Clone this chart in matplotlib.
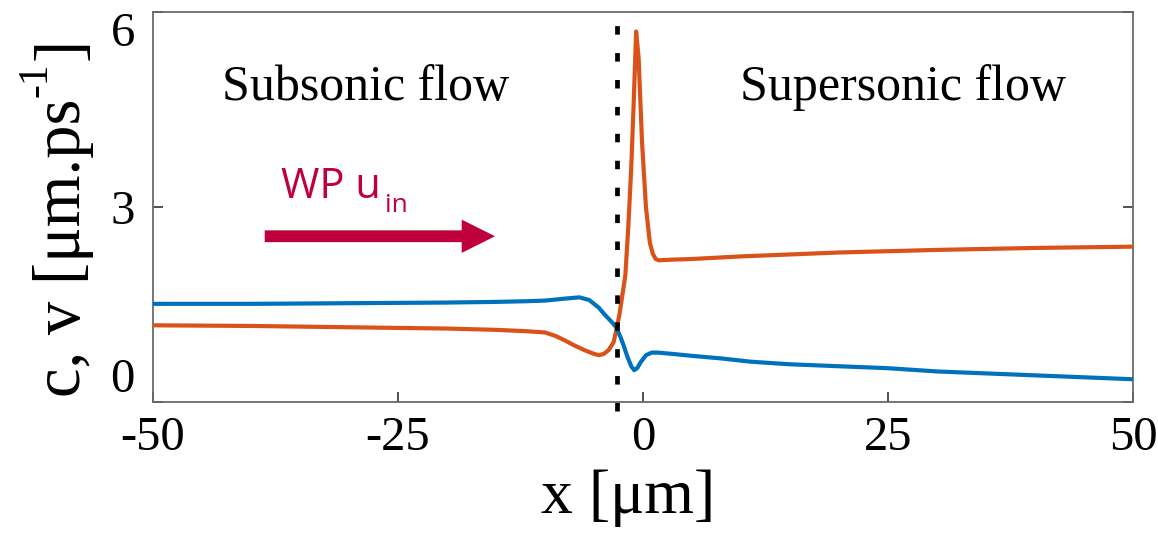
import matplotlib
matplotlib.use("Agg")
import matplotlib.pyplot as plt
from matplotlib.patches import FancyArrowPatch

# Flow profiles across the horizon
x_c = [-50, -40, -30, -20, -15, -12, -10, -9, -8, -7, -6, -5, -4.5, -4, -3.5, -3,
       -2.7, -2.4, -2.1, -1.8, -1.5, -1.2, -0.95, -0.7, -0.45, -0.1, 0.3, 0.7, 1.0,
       1.3, 1.6, 3, 5, 10, 15, 20, 25, 30, 40, 50]
c_vals = [1.18, 1.17, 1.15, 1.13, 1.11, 1.09, 1.07, 1.02, 0.95, 0.87, 0.80, 0.74, 0.72,
          0.74, 0.80, 0.92, 1.12, 1.35, 1.65, 1.95, 2.7, 3.6, 4.6, 5.7, 5.3, 4.0, 3.0,
          2.45, 2.28, 2.2, 2.18, 2.19, 2.2, 2.24, 2.27, 2.3, 2.32, 2.34, 2.37, 2.39]

x_v = [-50, -40, -30, -20, -15, -12, -10, -8, -6.5, -5.5, -4.5, -4, -3.5, -3, -2.7,
       -2.3, -2, -1.6, -1.2, -0.9, -0.6, -0.2, 0.3, 0.9, 1.5, 3, 5, 8, 11, 15, 20, 25,
       30, 35, 40, 45, 50]
v_vals = [1.51, 1.51, 1.52, 1.53, 1.54, 1.55, 1.56, 1.59, 1.61, 1.57, 1.45, 1.36, 1.28,
          1.2, 1.14, 1.0, 0.88, 0.70, 0.55, 0.49, 0.52, 0.62, 0.72, 0.76, 0.76, 0.74,
          0.71, 0.67, 0.62, 0.58, 0.55, 0.52, 0.47, 0.44, 0.41, 0.38, 0.35]

horizon_x = -2.7
x_ticks = [-50, -25, 0, 25, 50]
y_ticks = [0, 3, 6]

serif = "Liberation Serif"
W, H = 1158, 533

fig = plt.figure(figsize=(W / 100, H / 100), dpi=100)
ax = fig.add_axes([153 / W, 1 - 402 / H, 980 / W, 390 / H])

ax.plot(x_c, c_vals, color="#D95319", lw=3.0, solid_joinstyle="round", zorder=3)
ax.plot(x_v, v_vals, color="#0072BD", lw=3.0, solid_joinstyle="round", zorder=3)

ax.plot([horizon_x, horizon_x], [-0.14, 6.0], color="black", lw=3.4,
        linestyle=(0, (1.8, 3.9)), clip_on=False, zorder=4)

ax.set_xlim(-50, 50)
ax.set_ylim(0, 6)
ax.set_xticks(x_ticks)
ax.set_yticks(y_ticks)
ax.set_xticklabels([str(t) for t in x_ticks])
ax.set_yticklabels([str(t) for t in y_ticks])

for side in ax.spines.values():
    side.set_color("#6a6a6a")
    side.set_linewidth(1.3)
ax.tick_params(direction="in", length=7, width=1.2, color="#333333",
               labelsize=35, right=True, top=False)
ax.tick_params(axis="x", pad=10)
ax.tick_params(axis="y", pad=13)
for lab in ax.get_xticklabels() + ax.get_yticklabels():
    lab.set_fontfamily(serif)
ylabs = ax.get_yticklabels()
ylabs[0].set_verticalalignment("bottom")
ylabs[-1].set_verticalalignment("top")

ax.set_xlabel("x [μm]", fontsize=46, fontfamily=serif)
ax.xaxis.set_label_coords(0.4845, -0.172, transform=ax.transAxes)
ax.xaxis.label.set_verticalalignment("top")

# Vertical axis title, built from pieces so the exponent can be set smaller
renderer = fig.canvas.get_renderer()


def vertical_piece(text, base_x, start_y, size):
    t = fig.text(base_x / W, start_y / H, text, rotation=90, rotation_mode="anchor",
                 ha="left", va="baseline", fontsize=size, fontfamily=serif)
    return t.get_window_extent(renderer).y1


label_start = H - 397
end_main = vertical_piece("c, v [μm.ps", 80, label_start, 48)
end_sup = vertical_piece("-1", 46, end_main + 2, 30)
vertical_piece("]", 80, end_sup + 2, 48)

ax.text(-43, 4.65, "Subsonic flow", fontsize=36, fontfamily=serif,
        ha="left", va="baseline")
ax.text(9.9, 4.65, "Supersonic flow", fontsize=36, fontfamily=serif,
        ha="left", va="baseline")

wp_color = "#BE003C"
ax.text(-36.9, 3.14, "WP u", fontsize=30, fontfamily="Open Sans", color=wp_color,
        ha="left", va="baseline")
ax.text(-26.3, 2.93, "in", fontsize=19, fontfamily="Open Sans", color=wp_color,
        ha="left", va="baseline")

arrow = FancyArrowPatch((-38.6, 2.55), (-15.1, 2.55),
                        arrowstyle="simple,head_width=24,head_length=24,tail_width=8.5",
                        mutation_scale=1, shrinkA=0, shrinkB=0,
                        color=wp_color, lw=0, zorder=5)
ax.add_patch(arrow)

fig.savefig("out.png", dpi=100)
